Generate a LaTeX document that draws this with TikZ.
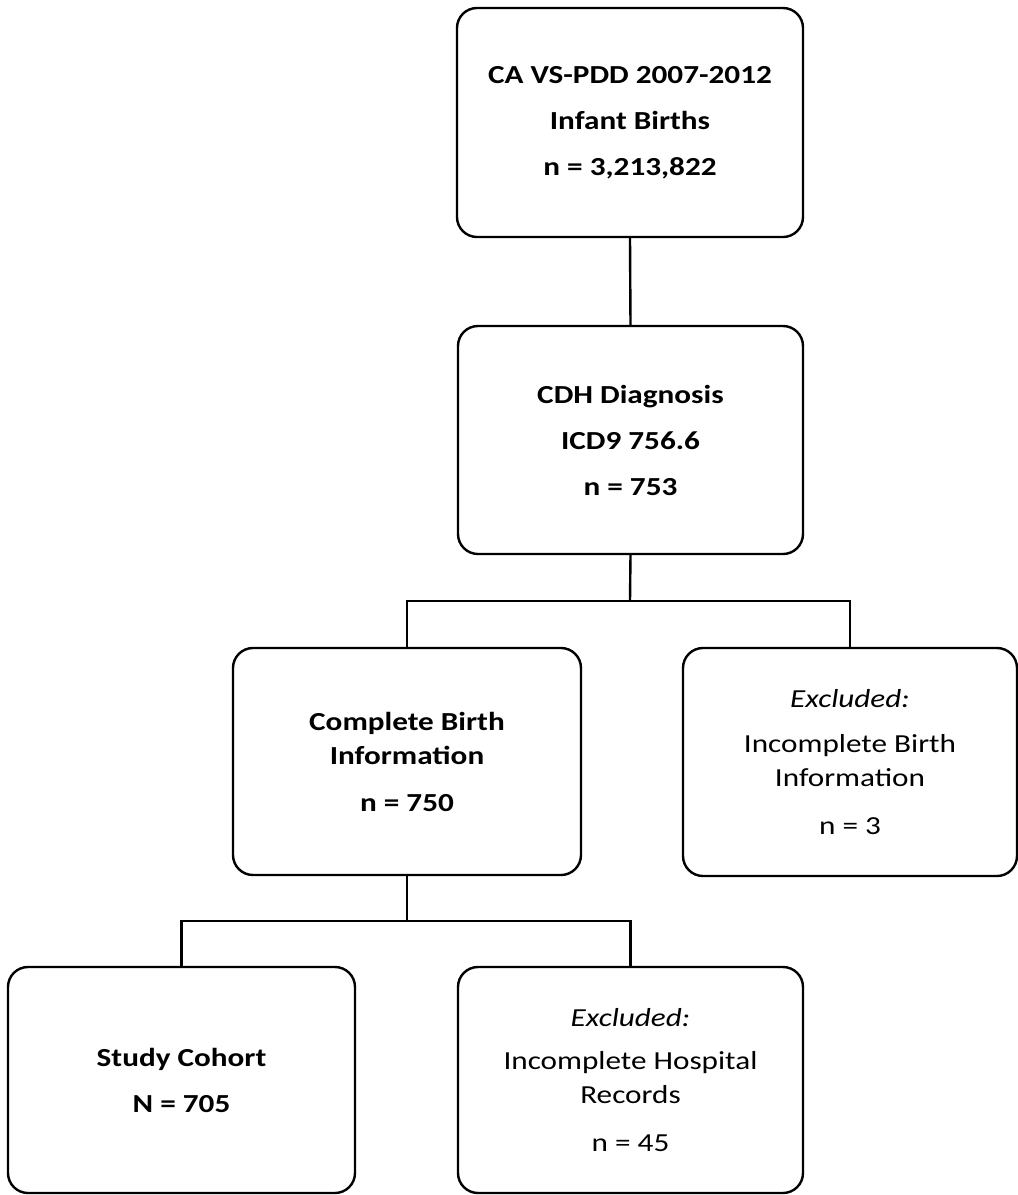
\documentclass[tikz,border=0pt]{standalone}
\usepackage{fontspec}
\setmainfont{Carlito}[FakeStretch=1.2]
\begin{document}
\begin{tikzpicture}[x=1pt,y=-1pt,
  box/.style={draw=black, line width=2.4pt, rounded corners=20pt, align=center, inner sep=0pt,
              font=\fontsize{26}{34}\selectfont},
  boldbox/.style={box, font=\fontsize{26}{34}\selectfont\bfseries},
  conn/.style={draw=black, line width=2.4pt}
]
\useasboundingbox (0,0) rectangle (1018,1195);

\node[boldbox, minimum width=346pt, minimum height=229pt] (b1) at (630,122.5)
  {CA VS-PDD 2007-2012\\[12pt]Infant Births\\[12pt]n = 3,213,822};
\node[boldbox, minimum width=345pt, minimum height=228pt] (b2) at (630.5,440)
  {CDH Diagnosis\\[12pt]ICD9 756.6\\[12pt]n = 753};
\node[boldbox, minimum width=348pt, minimum height=227pt] (b3) at (407,761.5)
  {Complete Birth\\Information\\[13pt]n = 750};
\node[box, minimum width=334pt, minimum height=228pt] (b4) at (850,762)
  {\textit{Excluded:}\\[11pt]Incomplete Birth\\Information\\[14pt]n = 3};
\node[boldbox, minimum width=347pt, minimum height=226pt] (b5) at (181.5,1080)
  {Study Cohort\\[12pt]N = 705};
\node[box, minimum width=345pt, minimum height=226pt] (b6) at (630.5,1080)
  {\textit{Excluded:}\\[9pt]Incomplete Hospital\\Records\\[14pt]n = 45};

\coordinate (j1) at (630,601);
\coordinate (j2) at (407,921);

\draw[conn] (b1.south) -- (b2.north);
\draw[conn] (b2.south) -- (j1);
\draw[conn] (b3.north) |- (j1) -| (b4.north);
\draw[conn] (b3.south) -- (j2);
\draw[conn] (b5.north) |- (j2) -| (b6.north);
\end{tikzpicture}
\end{document}
